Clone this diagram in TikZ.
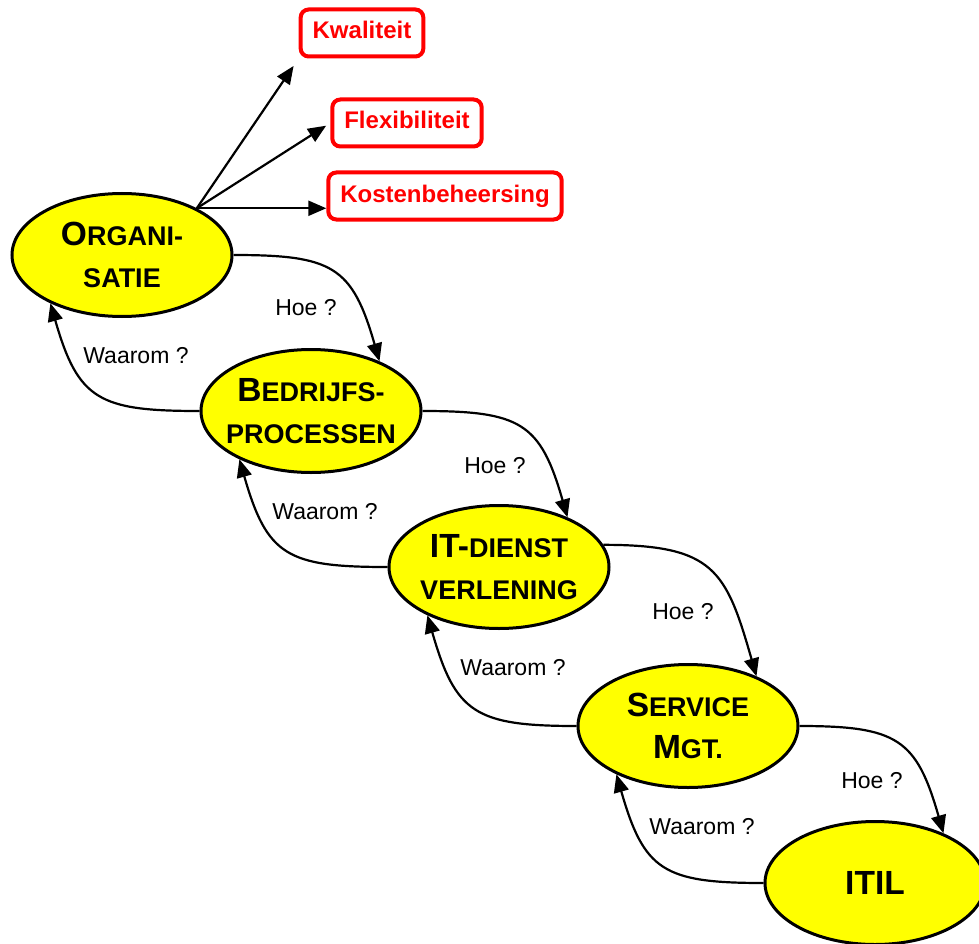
\documentclass[tikz,border=0pt]{standalone}
\usepackage{fontspec}
\setmainfont{Liberation Sans}
\usepackage{tikz}
\usetikzlibrary{shapes.geometric, arrows.meta, calc}
\definecolor{lvlyellow}{RGB}{255,255,0}
\definecolor{goalred}{RGB}{255,0,0}
\newcommand{\bigfirst}[1]{{\fontsize{33.5}{42}\selectfont #1}}
\tikzset{
  lvlnode/.style={ellipse, draw=black, fill=lvlyellow, line width=3pt,
    minimum width=220pt, minimum height=123pt, inner xsep=-40pt, inner ysep=0pt,
    align=center, font=\fontsize{27}{42}\selectfont\bfseries},
  goal/.style={rectangle, draw=goalred, text=goalred, line width=4pt,
    rounded corners=8pt, minimum height=47pt, inner xsep=12pt,
    text height=17pt, text depth=5pt, font=\fontsize{24}{28}\selectfont\bfseries},
  question/.style={font=\fontsize{23}{28}\selectfont},
  arrow/.style={-{Triangle[length=18pt, width=15pt]}, line width=2.2pt, color=black}
}

\begin{document}
\begin{tikzpicture}[x=1pt, y=1pt]
  \useasboundingbox (0,0) rectangle (979,-944);
  \clip (0,0) rectangle (979,-944);

  % Levels
  \node[lvlnode] (org) at (122,-255) {\bigfirst{O}RGANI-\\SATIE};
  \node[lvlnode] (bed) at (311,-411) {\bigfirst{B}EDRIJFS-\\PROCESSEN};
  \node[lvlnode] (itd) at (499,-567) {\bigfirst{IT-}DIENST\\VERLENING};
  \node[lvlnode] (svc) at (688,-726) {\bigfirst{S}ERVICE\\\bigfirst{M}GT.};
  \node[lvlnode] (itil) at (875,-883) {\bigfirst{ITIL}};

  % Goals
  \node[goal] (kwal) at (362,-33) {Kwaliteit};
  \node[goal] (flex) at (407,-123) {Flexibiliteit};
  \node[goal] (kost) at (445,-196) {Kostenbeheersing};

  \coordinate (orgtop) at (org.32);
  \draw[arrow, shorten >=9pt] (orgtop) -- (kwal.south west);
  \draw[arrow, shorten >=5pt] (orgtop) -- (flex.west);
  \draw[arrow] (orgtop) -- (orgtop -| kost.west);

  % Hoe / Waarom loops
  \foreach \up/\down/\sa/\hy [count=\i] in {org/bed/0/53, bed/itd/0/55, itd/svc/12/45, svc/itil/0/55} {
    \draw[arrow] (\up.\sa) to[out=0, in=106, looseness=1.4] (\down.36);
    \draw[arrow] (\down.west) to[out=180, in=-74, looseness=1.4] (\up.214);
    \node[question] (hoe\i) at ($(\up)+(184,-\hy)$) {Hoe ?};
    \node[question] (waarom\i) at ($(\up)+(14,-101)$) {Waarom ?};
  }
\end{tikzpicture}
\end{document}
